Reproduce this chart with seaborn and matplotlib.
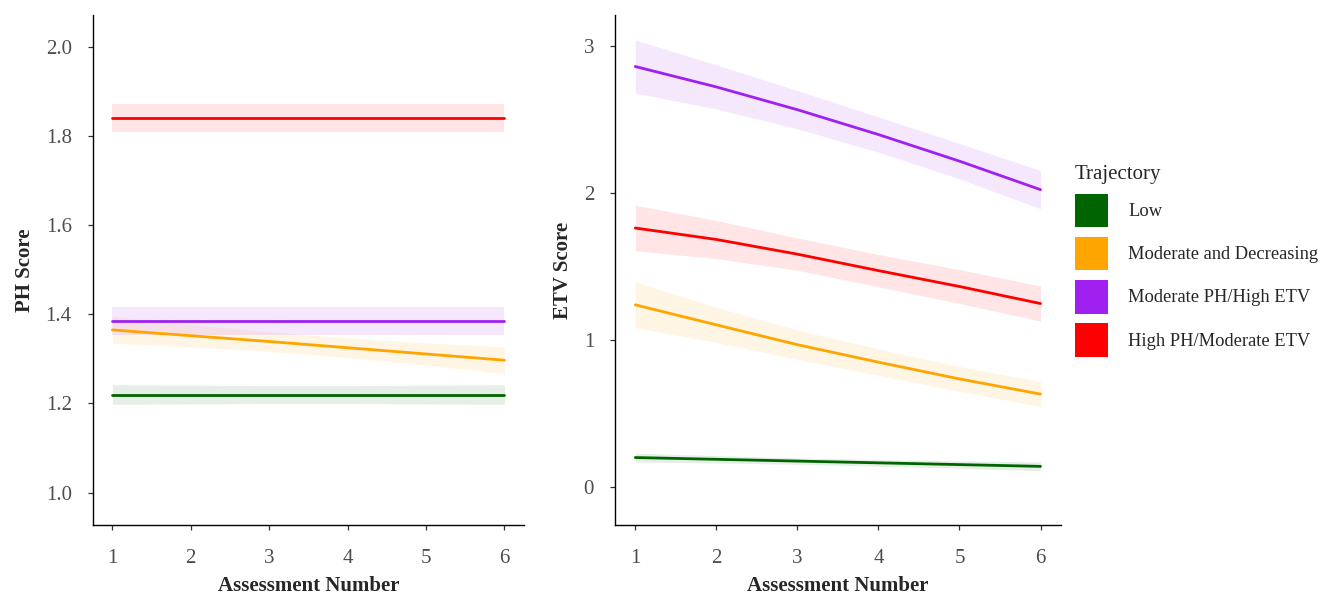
import pandas as pd
import numpy as np
import matplotlib
matplotlib.use("Agg")
import matplotlib.pyplot as plt
import seaborn as sns
from matplotlib.patches import Patch

# Data
assessment = [1, 2, 3, 4, 5, 6]
trajectories = ["Low", "Moderate and Decreasing", "Moderate PH/High ETV", "High PH/Moderate ETV"]
colors = ["#006400", "#FFA500", "#A020F0", "#FF0000"]

# PH score: fitted values and half-width of the band
ph_low = [1.220, 1.220, 1.220, 1.220, 1.220, 1.220]
ph_low_hw = [0.022, 0.021, 0.020, 0.020, 0.021, 0.022]
ph_moddec = [1.365, 1.352, 1.339, 1.325, 1.311, 1.297]
ph_moddec_hw = [0.030, 0.025, 0.022, 0.022, 0.025, 0.030]
ph_modhigh = [1.385, 1.385, 1.385, 1.385, 1.385, 1.385]
ph_modhigh_hw = [0.031, 0.031, 0.031, 0.031, 0.031, 0.031]
ph_highmod = [1.840, 1.840, 1.840, 1.840, 1.840, 1.840]
ph_highmod_hw = [0.031, 0.031, 0.031, 0.031, 0.031, 0.031]

# ETV score
etv_low = [0.202, 0.190, 0.178, 0.166, 0.154, 0.142]
etv_low_hw = [0.030, 0.025, 0.022, 0.022, 0.025, 0.030]
etv_moddec = [1.241, 1.105, 0.970, 0.851, 0.737, 0.634]
etv_moddec_hw = [0.155, 0.120, 0.100, 0.090, 0.085, 0.085]
etv_modhigh = [2.863, 2.724, 2.569, 2.400, 2.219, 2.025]
etv_modhigh_hw = [0.180, 0.150, 0.130, 0.120, 0.120, 0.130]
etv_highmod = [1.764, 1.686, 1.586, 1.474, 1.366, 1.250]
etv_highmod_hw = [0.155, 0.130, 0.110, 0.110, 0.115, 0.120]


def make_df(fits, hws):
    rows = []
    for name, fit, hw in zip(trajectories, fits, hws):
        for a, f, h in zip(assessment, fit, hw):
            rows.append({"Assessment": a, "Trajectory": name, "Score": f,
                         "lower": f - h, "upper": f + h})
    return pd.DataFrame(rows)


ph_df = make_df([ph_low, ph_moddec, ph_modhigh, ph_highmod],
                [ph_low_hw, ph_moddec_hw, ph_modhigh_hw, ph_highmod_hw])
etv_df = make_df([etv_low, etv_moddec, etv_modhigh, etv_highmod],
                 [etv_low_hw, etv_moddec_hw, etv_modhigh_hw, etv_highmod_hw])

sns.set_style("white")
plt.rcParams["font.family"] = ["Liberation Serif", "DejaVu Serif"]
palette = dict(zip(trajectories, colors))

fig = plt.figure(figsize=(13.21, 5.97), dpi=100)
ax1 = fig.add_axes([0.0702, 0.1211, 0.3265, 0.8534])
ax2 = fig.add_axes([0.4656, 0.1211, 0.3374, 0.8534])


def draw_panel(ax, df, ylabel, ylim, yticks, yticklabels, ylab_x):
    for name in trajectories:
        sub = df[df["Trajectory"] == name]
        ax.fill_between(sub["Assessment"], sub["lower"], sub["upper"],
                        color=palette[name], alpha=0.1, linewidth=0)
    sns.lineplot(data=df, x="Assessment", y="Score", hue="Trajectory",
                 palette=palette, linewidth=2, legend=False, ax=ax)
    ax.set_xlim(0.75, 6.25)
    ax.set_ylim(*ylim)
    ax.set_xticks(assessment)
    ax.set_yticks(yticks)
    ax.set_yticklabels(yticklabels)
    ax.set_xlabel("Assessment Number", fontsize=15, fontweight="bold")
    ax.set_ylabel(ylabel, fontsize=15, fontweight="bold")
    ax.xaxis.set_label_coords(0.5, -0.1)
    ax.yaxis.set_label_coords(ylab_x, 0.5)
    sns.despine(ax=ax)
    for side in ["left", "bottom"]:
        ax.spines[side].set_color("black")
        ax.spines[side].set_linewidth(1.0)
    ax.tick_params(axis="both", bottom=True, left=True, colors="#333333",
                   labelcolor="#4D4D4D", length=3.6, width=0.9, labelsize=15)
    ax.tick_params(axis="x", pad=14)
    ax.tick_params(axis="y", pad=11.5)
    ax.grid(False)


draw_panel(ax1, ph_df, "PH Score", (0.928, 2.071),
           [1.0, 1.2, 1.4, 1.6, 1.8, 2.0], ["1.0", "1.2", "1.4", "1.6", "1.8", "2.0"], -0.135)
draw_panel(ax2, etv_df, "ETV Score", (-0.255, 3.212),
           [0, 1, 2, 3], ["0", "1", "2", "3"], -0.095)

handles = [Patch(facecolor=c, edgecolor="none") for c in colors]
fig.legend(handles, trajectories, title="Trajectory", loc="upper left",
           bbox_to_anchor=(0.8138, 0.724), frameon=False, fontsize=13.3,
           title_fontsize=15, handlelength=1.81, handleheight=2.41,
           labelspacing=0.53, handletextpad=1.06, borderpad=0, borderaxespad=0,
           alignment="left")

plt.savefig("out.png", dpi=100)
